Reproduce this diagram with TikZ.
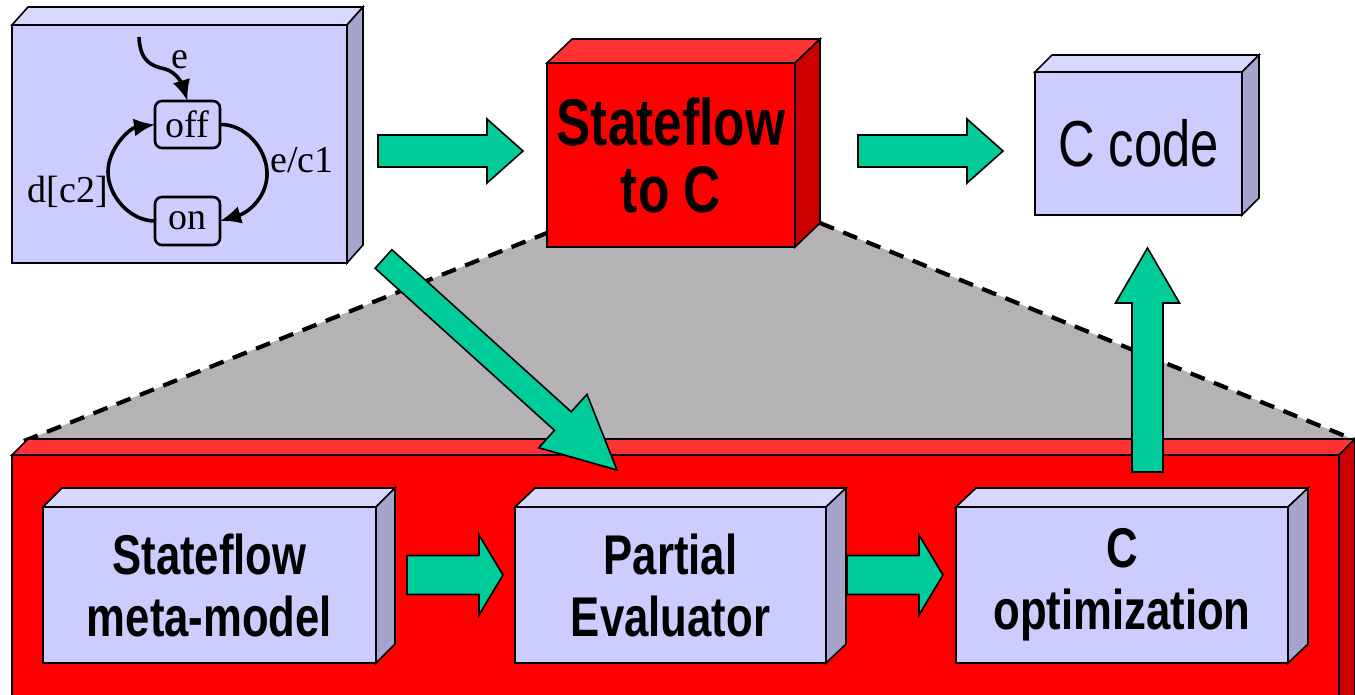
\documentclass[tikz,border=0pt]{standalone}
\usepackage{fontspec}
\setmainfont{Liberation Serif}
\newfontfamily\hv[FakeStretch=0.78]{Liberation Sans}
\usetikzlibrary{calc,arrows.meta}
\definecolor{lavfront}{RGB}{204,204,255}
\definecolor{lavtop}{RGB}{216,216,255}
\definecolor{lavside}{RGB}{165,165,204}
\definecolor{redfront}{RGB}{255,0,0}
\definecolor{redtop}{RGB}{255,51,51}
\definecolor{redside}{RGB}{204,0,0}
\definecolor{grn}{RGB}{0,204,153}
\definecolor{zoomgray}{RGB}{181,178,181}
% 3D faces of a box node: #1 node, #2 dx, #3 dy (upwards), #4 colour prefix
\newcommand\cubefaces[4]{%
  \draw[face,fill=#4top] (#1.north west) -- ++(#2,-#3) -- ([shift={(#2,-#3)}]#1.north east) -- (#1.north east) -- cycle;
  \draw[face,fill=#4side] (#1.north east) -- ++(#2,-#3) -- ([shift={(#2,-#3)}]#1.south east) -- (#1.south east) -- cycle;
}
% fat block arrow: #1 from, #2 to, #3 shaft half width, #4 head half width, #5 head length
\newcommand\fatarrow[5]{%
  \coordinate (fah) at ($(#2)!#5!(#1)$);
  \draw[fat] ($(#1)!#3!90:(#2)$) -- ($(fah)!#3!90:(#2)$) -- ($(fah)!#4!90:(#2)$) -- (#2)
    -- ($(fah)!#4!-90:(#2)$) -- ($(fah)!#3!-90:(#2)$) -- ($(#1)!#3!-90:(#2)$) -- cycle;
}
\begin{document}
\begin{tikzpicture}[x=1pt,y=-1pt,
  face/.style={draw=black,line width=1.6pt,line join=miter},
  lavbox/.style={draw=black,line width=1.6pt,fill=lavfront,inner sep=0pt,outer sep=0pt,align=center},
  redbox/.style={draw=black,line width=1.6pt,fill=redfront,inner sep=0pt,outer sep=0pt,align=center},
  bigtxt/.style={font=\hv\bfseries\fontsize{66}{67}\selectfont},
  midtxt/.style={font=\hv\bfseries\fontsize{56}{62}\selectfont},
  codetxt/.style={font=\hv\fontsize{65}{66}\selectfont},
  state/.style={draw=black,line width=2.6pt,rounded corners=7pt,fill=lavfront,inner sep=0pt,outer sep=0pt,
    font=\fontsize{38}{40}\selectfont},
  trans/.style={draw=black,line width=3.6pt,-{Latex[length=21pt,width=18pt]}},
  tlabel/.style={font=\fontsize{38}{40}\selectfont,inner sep=0pt},
  fat/.style={draw=black,line width=1.6pt,fill=grn,line join=miter},
  zoomline/.style={draw=black,line width=4.2pt,dash pattern=on 15pt off 10pt}
]
\useasboundingbox (0,0) rectangle (1355,694);
\clip (0,0) rectangle (1355,694);

% shaded zoom region
\coordinate (zl) at (572,223);
\coordinate (zr) at (820,223);
\coordinate (bl) at (24,441);
\coordinate (br) at (1355,440);
\fill[zoomgray] (zl) -- (zr) -- (br) -- (bl) -- cycle;
\draw[zoomline] (zl) -- (bl);
\draw[zoomline] (zr) -- (br);

% top-left: state chart box
\node[lavbox,minimum width=335pt,minimum height=238pt] (chart) at (179.5,144) {};
\cubefaces{chart}{16}{18}{lav}
\node[state,minimum width=65pt,minimum height=47pt] (off) at (187.5,124.5) {off};
\node[state,minimum width=65pt,minimum height=48pt] (on) at (187.5,221) {on};
\coordinate (init) at (139,37);
\draw[trans] (init) .. controls (140,62) and (152,66) .. (165,69) .. controls (177,72) and (183,86) .. (off.north);
\draw[trans] (off.east) .. controls (245,124) and (266,148) .. (267,172) .. controls (268,195) and (250,212) .. (on.east);
\draw[trans] (on.west) .. controls (130,221) and (108,196) .. (108,172) .. controls (108,148) and (130,128) .. (off.west);
\node[tlabel,anchor=base] (le) at (180,68) {e};
\node[tlabel,anchor=base west] (lec) at (270,172) {e/c1};
\node[tlabel,anchor=base east] (ld) at (108,202) {d[c2]};

% Stateflow to C
\node[redbox,bigtxt,minimum width=248pt,minimum height=184pt] (s2c) at (671,155) {Stateflow\\to C};
\cubefaces{s2c}{25}{24}{red}

% C code
\node[lavbox,codetxt,minimum width=207pt,minimum height=143pt] (cc) at (1138.5,143.5) {C code};
\cubefaces{cc}{17}{17}{lav}

% big red container
\node[redbox,minimum width=1327pt,minimum height=265pt] (tool) at (675.5,587.5) {};
\cubefaces{tool}{16}{16}{red}

% inner boxes
\node[lavbox,midtxt,minimum width=333pt,minimum height=156pt] (meta) at (209.5,585) {Stateflow\\meta-model};
\cubefaces{meta}{19}{19}{lav}
\node[lavbox,midtxt,minimum width=311pt,minimum height=156pt] (pe) at (670.5,585) {Partial\\Evaluator};
\cubefaces{pe}{20}{19}{lav}
\node[lavbox,midtxt,minimum width=332pt,minimum height=156pt] (copt) at (1122,585) {C\\optimization};
\cubefaces{copt}{20}{19}{lav}

% block arrows
\coordinate (a1s) at (378,151); \coordinate (a1e) at (523,151);
\fatarrow{a1s}{a1e}{16pt}{32pt}{36pt}
\coordinate (a2s) at (858,151); \coordinate (a2e) at (1003,151);
\fatarrow{a2s}{a2e}{16pt}{32pt}{36pt}
\coordinate (ups) at (1147.5,472); \coordinate (upe) at (1147.5,248);
\fatarrow{ups}{upe}{15.5pt}{32pt}{55pt}
\coordinate (dgs) at (383.5,259); \coordinate (dge) at (617,470);
\fatarrow{dgs}{dge}{12.5pt}{36pt}{73pt}
\coordinate (b1s) at (407,575); \coordinate (b1e) at (503,575);
\fatarrow{b1s}{b1e}{19.5pt}{40pt}{24pt}
\coordinate (b2s) at (847,575); \coordinate (b2e) at (943,575);
\fatarrow{b2s}{b2e}{19.5pt}{40pt}{24pt}
\end{tikzpicture}
\end{document}
